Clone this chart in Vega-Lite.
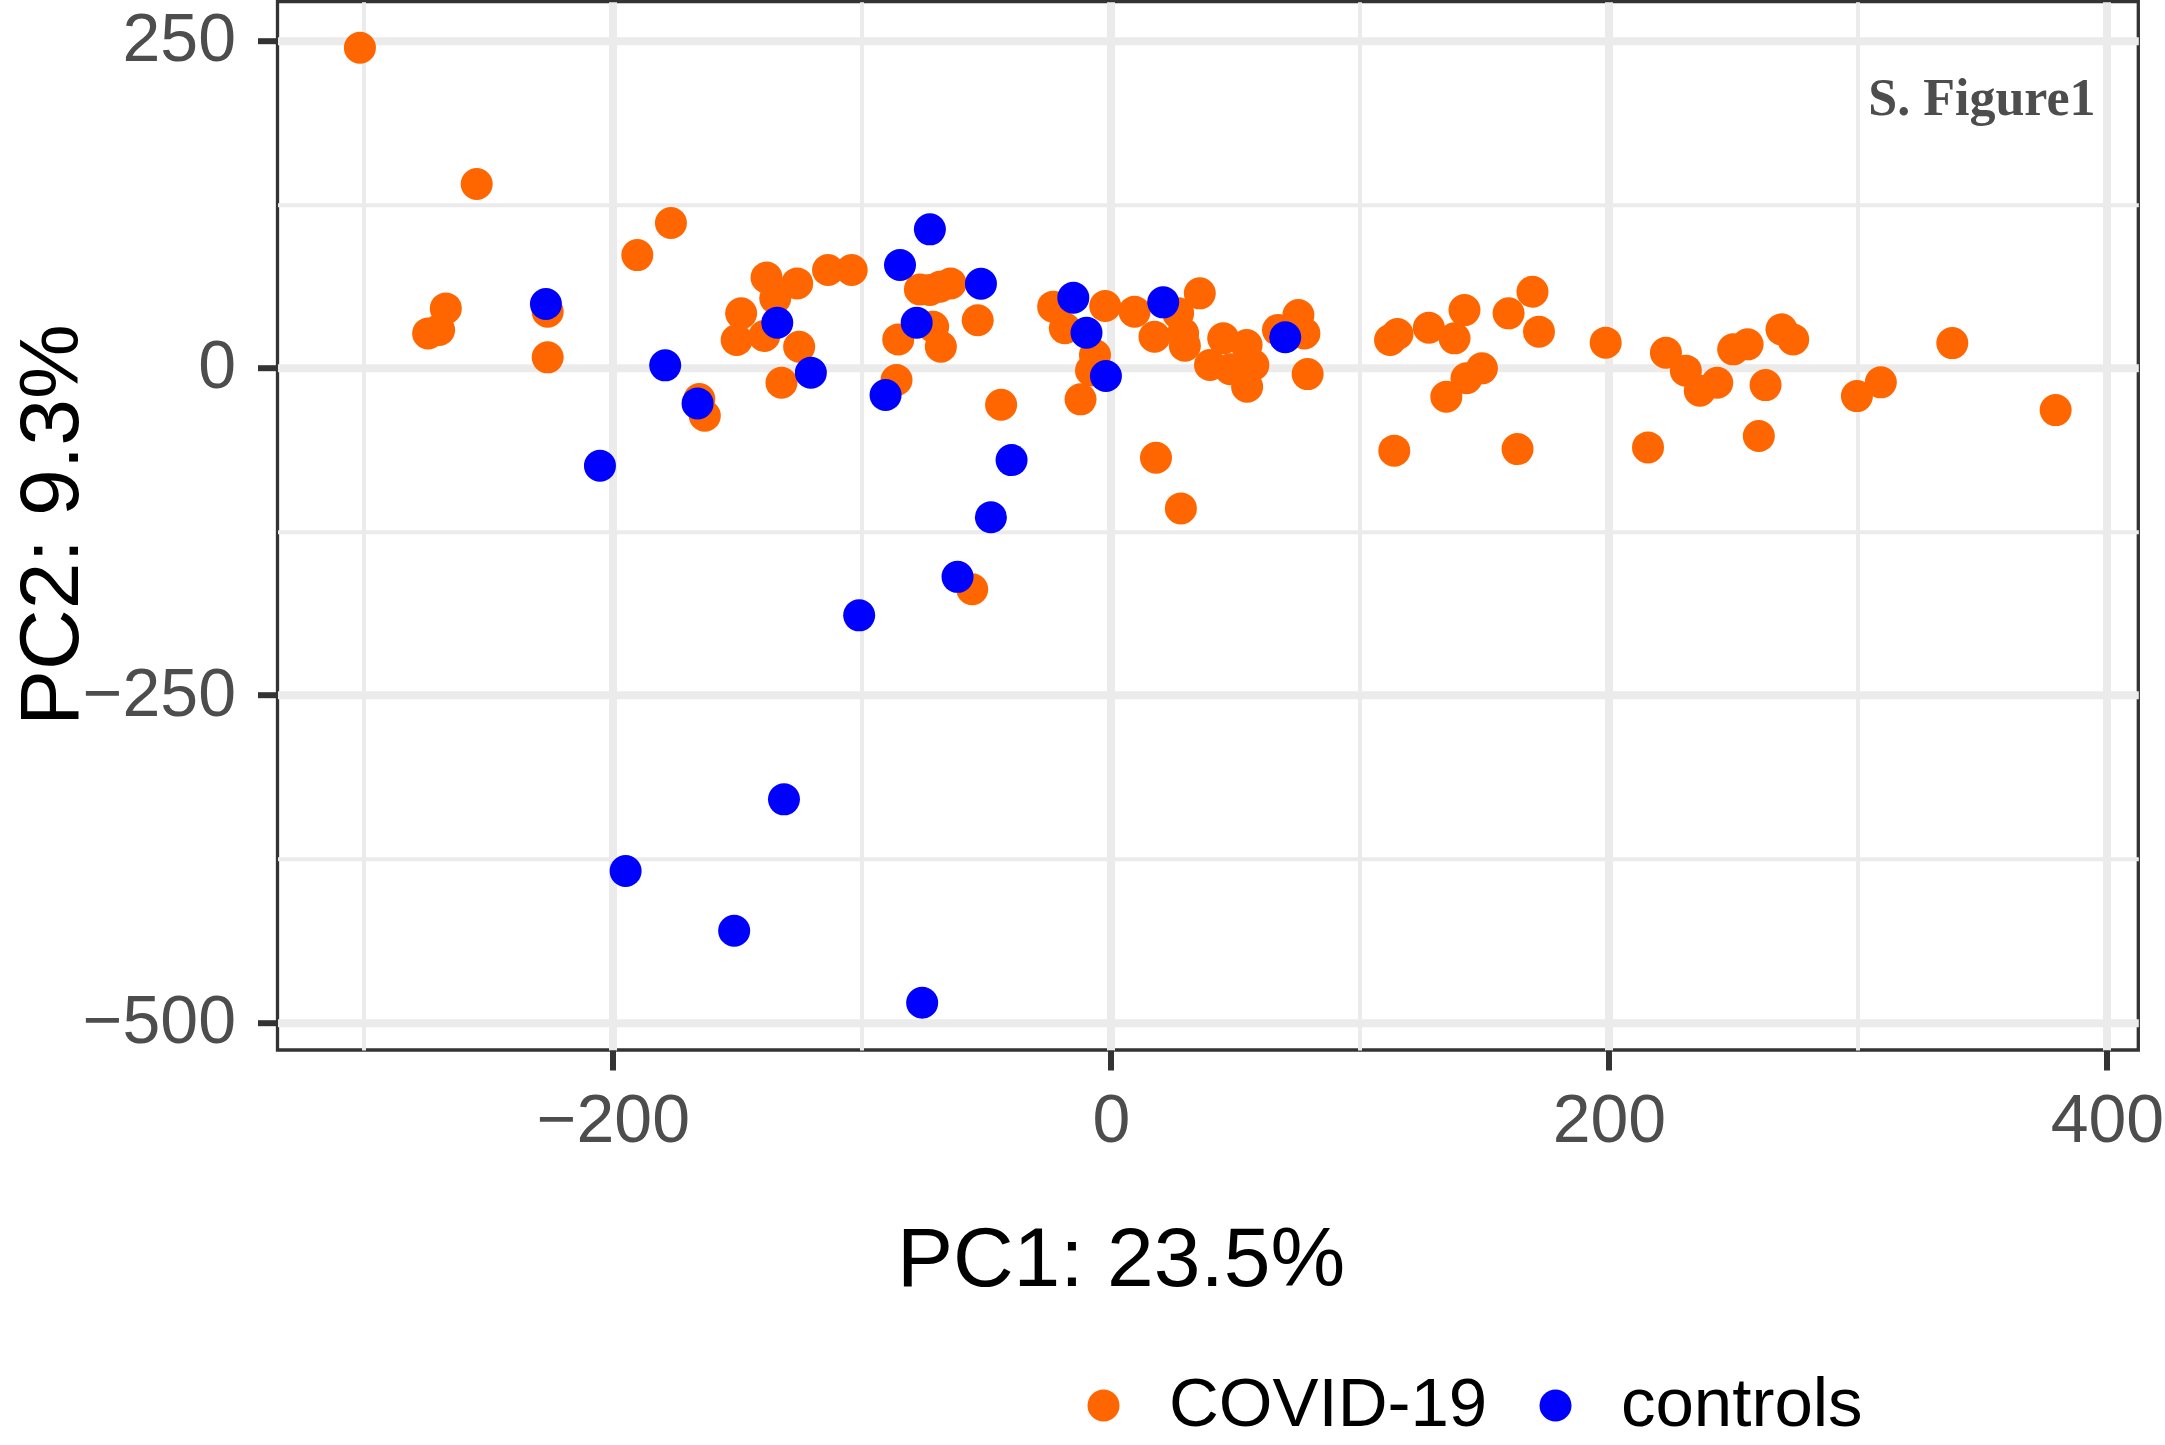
{
  "$schema": "https://vega.github.io/schema/vega-lite/v6.json",
  "width": 1860.8,
  "height": 1048.3,
  "autosize": {"type": "none"},
  "padding": {"left": 277.5, "top": 1.7, "right": 26.7, "bottom": 395},
  "background": "#ffffff",
  "config": {
    "view": {"stroke": "#333333", "strokeWidth": 3.3},
    "axis": {"labelFont": "Liberation Sans", "titleFont": "Liberation Sans"}
  },
  "datasets": {
    "pca": [
      {"PC1": -301.6, "PC2": 244.6, "group": "COVID-19"},
      {"PC1": -254.7, "PC2": 140.5, "group": "COVID-19"},
      {"PC1": -176.7, "PC2": 110.7, "group": "COVID-19"},
      {"PC1": -190.2, "PC2": 86.2, "group": "COVID-19"},
      {"PC1": -267.1, "PC2": 45.5, "group": "COVID-19"},
      {"PC1": -269.8, "PC2": 29.0, "group": "COVID-19"},
      {"PC1": -274.2, "PC2": 26.4, "group": "COVID-19"},
      {"PC1": -226.2, "PC2": 42.9, "group": "COVID-19"},
      {"PC1": -226.2, "PC2": 8.1, "group": "COVID-19"},
      {"PC1": -165.3, "PC2": -23.8, "group": "COVID-19"},
      {"PC1": -163.1, "PC2": -36.5, "group": "COVID-19"},
      {"PC1": -150.3, "PC2": 21.3, "group": "COVID-19"},
      {"PC1": -148.5, "PC2": 41.7, "group": "COVID-19"},
      {"PC1": -139.2, "PC2": 24.4, "group": "COVID-19"},
      {"PC1": -138.3, "PC2": 69.0, "group": "COVID-19"},
      {"PC1": -134.8, "PC2": 53.2, "group": "COVID-19"},
      {"PC1": -126.0, "PC2": 64.6, "group": "COVID-19"},
      {"PC1": -125.2, "PC2": 16.2, "group": "COVID-19"},
      {"PC1": -132.3, "PC2": -11.3, "group": "COVID-19"},
      {"PC1": -113.6, "PC2": 74.8, "group": "COVID-19"},
      {"PC1": -104.1, "PC2": 74.8, "group": "COVID-19"},
      {"PC1": -85.4, "PC2": 21.8, "group": "COVID-19"},
      {"PC1": -86.1, "PC2": -9.2, "group": "COVID-19"},
      {"PC1": -76.7, "PC2": 60.0, "group": "COVID-19"},
      {"PC1": -72.7, "PC2": 59.5, "group": "COVID-19"},
      {"PC1": -68.7, "PC2": 62.0, "group": "COVID-19"},
      {"PC1": -64.4, "PC2": 64.6, "group": "COVID-19"},
      {"PC1": -71.4, "PC2": 31.5, "group": "COVID-19"},
      {"PC1": -68.3, "PC2": 16.2, "group": "COVID-19"},
      {"PC1": -53.5, "PC2": 36.4, "group": "COVID-19"},
      {"PC1": -44.1, "PC2": -28.1, "group": "COVID-19"},
      {"PC1": -55.7, "PC2": -169.1, "group": "COVID-19"},
      {"PC1": -23.2, "PC2": 46.8, "group": "COVID-19"},
      {"PC1": -2.3, "PC2": 47.3, "group": "COVID-19"},
      {"PC1": -18.5, "PC2": 30.3, "group": "COVID-19"},
      {"PC1": -6.4, "PC2": 9.9, "group": "COVID-19"},
      {"PC1": -8.0, "PC2": -2.0, "group": "COVID-19"},
      {"PC1": -12.2, "PC2": -24.0, "group": "COVID-19"},
      {"PC1": 9.5, "PC2": 43.0, "group": "COVID-19"},
      {"PC1": 17.5, "PC2": 23.8, "group": "COVID-19"},
      {"PC1": 27.0, "PC2": 41.7, "group": "COVID-19"},
      {"PC1": 29.0, "PC2": 26.4, "group": "COVID-19"},
      {"PC1": 29.7, "PC2": 17.0, "group": "COVID-19"},
      {"PC1": 35.7, "PC2": 57.0, "group": "COVID-19"},
      {"PC1": 18.1, "PC2": -68.6, "group": "COVID-19"},
      {"PC1": 28.1, "PC2": -107.3, "group": "COVID-19"},
      {"PC1": 45.1, "PC2": 22.6, "group": "COVID-19"},
      {"PC1": 39.8, "PC2": 2.2, "group": "COVID-19"},
      {"PC1": 48.0, "PC2": -1.0, "group": "COVID-19"},
      {"PC1": 57.2, "PC2": 2.2, "group": "COVID-19"},
      {"PC1": 54.5, "PC2": 17.5, "group": "COVID-19"},
      {"PC1": 54.7, "PC2": -14.4, "group": "COVID-19"},
      {"PC1": 67.1, "PC2": 29.0, "group": "COVID-19"},
      {"PC1": 75.3, "PC2": 40.4, "group": "COVID-19"},
      {"PC1": 77.7, "PC2": 26.4, "group": "COVID-19"},
      {"PC1": 79.0, "PC2": -4.7, "group": "COVID-19"},
      {"PC1": 112.1, "PC2": 21.3, "group": "COVID-19"},
      {"PC1": 115.1, "PC2": 25.9, "group": "COVID-19"},
      {"PC1": 127.7, "PC2": 30.7, "group": "COVID-19"},
      {"PC1": 138.0, "PC2": 22.6, "group": "COVID-19"},
      {"PC1": 142.0, "PC2": 44.2, "group": "COVID-19"},
      {"PC1": 149.0, "PC2": -0.3, "group": "COVID-19"},
      {"PC1": 142.8, "PC2": -7.9, "group": "COVID-19"},
      {"PC1": 134.7, "PC2": -22.0, "group": "COVID-19"},
      {"PC1": 113.8, "PC2": -63.2, "group": "COVID-19"},
      {"PC1": 159.7, "PC2": 41.7, "group": "COVID-19"},
      {"PC1": 163.3, "PC2": -62.0, "group": "COVID-19"},
      {"PC1": 169.3, "PC2": 58.2, "group": "COVID-19"},
      {"PC1": 171.9, "PC2": 27.7, "group": "COVID-19"},
      {"PC1": 198.7, "PC2": 19.3, "group": "COVID-19"},
      {"PC1": 222.9, "PC2": 11.6, "group": "COVID-19"},
      {"PC1": 230.9, "PC2": -2.1, "group": "COVID-19"},
      {"PC1": 236.5, "PC2": -17.4, "group": "COVID-19"},
      {"PC1": 243.5, "PC2": -11.3, "group": "COVID-19"},
      {"PC1": 249.9, "PC2": 14.2, "group": "COVID-19"},
      {"PC1": 255.7, "PC2": 18.0, "group": "COVID-19"},
      {"PC1": 269.3, "PC2": 29.5, "group": "COVID-19"},
      {"PC1": 274.0, "PC2": 21.8, "group": "COVID-19"},
      {"PC1": 262.9, "PC2": -13.1, "group": "COVID-19"},
      {"PC1": 260.2, "PC2": -52.0, "group": "COVID-19"},
      {"PC1": 215.7, "PC2": -60.7, "group": "COVID-19"},
      {"PC1": 299.6, "PC2": -21.5, "group": "COVID-19"},
      {"PC1": 309.2, "PC2": -11.0, "group": "COVID-19"},
      {"PC1": 337.9, "PC2": 19.0, "group": "COVID-19"},
      {"PC1": 379.4, "PC2": -32.2, "group": "COVID-19"},
      {"PC1": -226.9, "PC2": 48.8, "group": "controls"},
      {"PC1": -205.2, "PC2": -74.7, "group": "controls"},
      {"PC1": -179.0, "PC2": 2.0, "group": "controls"},
      {"PC1": -166.0, "PC2": -27.1, "group": "controls"},
      {"PC1": -134.0, "PC2": 34.5, "group": "controls"},
      {"PC1": -120.5, "PC2": -3.7, "group": "controls"},
      {"PC1": -90.5, "PC2": -20.7, "group": "controls"},
      {"PC1": -84.7, "PC2": 78.6, "group": "controls"},
      {"PC1": -78.0, "PC2": 34.5, "group": "controls"},
      {"PC1": -72.7, "PC2": 105.9, "group": "controls"},
      {"PC1": -52.2, "PC2": 64.3, "group": "controls"},
      {"PC1": -39.9, "PC2": -70.4, "group": "controls"},
      {"PC1": -48.2, "PC2": -114.1, "group": "controls"},
      {"PC1": -61.6, "PC2": -159.6, "group": "controls"},
      {"PC1": -101.1, "PC2": -189.0, "group": "controls"},
      {"PC1": -131.3, "PC2": -329.6, "group": "controls"},
      {"PC1": -194.9, "PC2": -384.3, "group": "controls"},
      {"PC1": -151.3, "PC2": -430.0, "group": "controls"},
      {"PC1": -75.8, "PC2": -485.0, "group": "controls"},
      {"PC1": -15.1, "PC2": 53.6, "group": "controls"},
      {"PC1": -9.8, "PC2": 26.9, "group": "controls"},
      {"PC1": -2.0, "PC2": -6.2, "group": "controls"},
      {"PC1": 21.0, "PC2": 50.1, "group": "controls"},
      {"PC1": 70.0, "PC2": 23.4, "group": "controls"}
    ],
    "note": [{"label": "S. Figure1"}]
  },
  "layer": [
    {
      "data": {"name": "pca"},
      "mark": {"type": "point", "filled": true, "opacity": 0, "size": 10},
      "encoding": {
        "x": {
          "field": "PC1", "type": "quantitative",
          "scale": {"domain": [-334.7, 412.6], "nice": false, "zero": false},
          "axis": {"orient": "top", "values": [-300, -100, 100, 300], "grid": true, "gridColor": "#EBEBEB", "gridWidth": 4, "labels": false, "ticks": false, "domain": false, "title": null}
        },
        "y": {
          "field": "PC2", "type": "quantitative",
          "scale": {"domain": [-521.1, 279.8], "nice": false, "zero": false},
          "axis": {"orient": "right", "values": [-375, -125, 125], "grid": true, "gridColor": "#EBEBEB", "gridWidth": 4, "labels": false, "ticks": false, "domain": false, "title": null}
        }
      }
    },
    {
      "data": {"name": "pca"},
      "mark": {"type": "point", "filled": true, "opacity": 1, "size": 1024, "shape": "circle", "strokeWidth": 0},
      "encoding": {
        "x": {
          "field": "PC1", "type": "quantitative",
          "scale": {"domain": [-334.7, 412.6], "nice": false, "zero": false},
          "axis": {
            "orient": "bottom", "values": [-200, 0, 200, 400], "format": "d",
            "grid": true, "gridColor": "#EBEBEB", "gridWidth": 8,
            "domain": false, "ticks": true, "tickColor": "#333333", "tickWidth": 6, "tickSize": 20,
            "labelFontSize": 68, "labelColor": "#4D4D4D", "labelPadding": 17, "labelFlush": false, "labelOverlap": false,
            "title": "PC1: 23.5%", "titleFontSize": 84, "titleFontWeight": "normal", "titleColor": "#000000",
            "titleX": 843, "titleY": 235, "titleAlign": "center", "titleBaseline": "alphabetic"
          }
        },
        "y": {
          "field": "PC2", "type": "quantitative",
          "scale": {"domain": [-521.1, 279.8], "nice": false, "zero": false},
          "axis": {
            "orient": "left", "values": [-500, -250, 0, 250], "format": "d",
            "grid": true, "gridColor": "#EBEBEB", "gridWidth": 8,
            "domain": false, "ticks": true, "tickColor": "#333333", "tickWidth": 6, "tickSize": 20,
            "labelFontSize": 68, "labelColor": "#4D4D4D", "labelPadding": 22, "labelFlush": false, "labelOverlap": false,
            "title": "PC2: 9.3%", "titleFontSize": 84, "titleFontWeight": "normal", "titleColor": "#000000",
            "titleAngle": 270, "titleX": -200, "titleY": 523, "titleAlign": "center", "titleBaseline": "alphabetic"
          }
        },
        "color": {
          "field": "group", "type": "nominal",
          "scale": {"domain": ["COVID-19", "controls"], "range": ["#FF6600", "#0000FF"]},
          "legend": {
            "orient": "none", "direction": "horizontal", "legendX": 791.5, "legendY": 1369,
            "title": null, "padding": 0,
            "labelFont": "Liberation Sans", "labelFontSize": 69, "labelColor": "#000000", "labelOffset": 31, "labelLimit": 2000,
            "symbolType": "circle", "symbolSize": 1024, "symbolStrokeWidth": 0, "symbolOpacity": 1,
            "columnPadding": 33
          }
        }
      }
    },
    {
      "data": {"name": "note"},
      "mark": {"type": "text", "font": "Liberation Serif", "fontWeight": "bold", "fontSize": 52, "color": "#4D4D4D", "align": "center", "baseline": "alphabetic"},
      "encoding": {
        "x": {"datum": 349.8, "type": "quantitative", "axis": null},
        "y": {"datum": 193.2, "type": "quantitative", "axis": null},
        "text": {"field": "label", "type": "nominal"}
      }
    }
  ],
  "resolve": {"axis": {"x": "independent", "y": "independent"}}
}
